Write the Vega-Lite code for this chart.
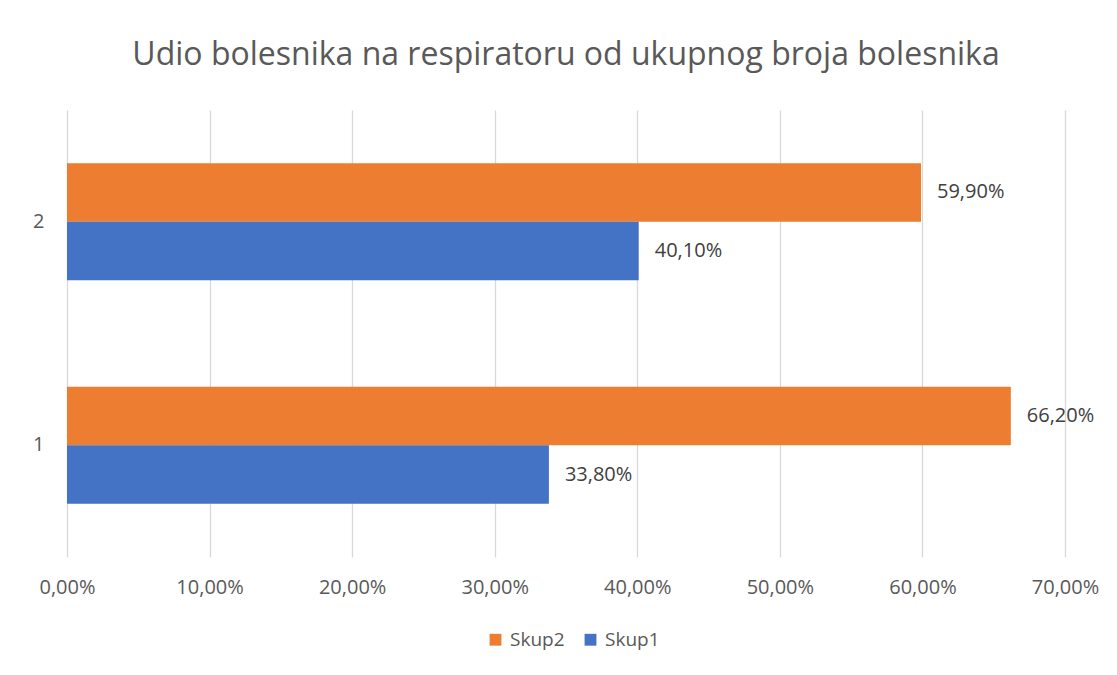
{
  "$schema": "https://vega.github.io/schema/vega-lite/v6.json",
  "width": 998,
  "height": 447,
  "autosize": "none",
  "padding": {"left": 67, "top": 110, "right": 52, "bottom": 118},
  "background": "#ffffff",
  "title": {
    "text": "Udio bolesnika na respiratoru od ukupnog broja bolesnika",
    "font": "Open Sans",
    "fontSize": 32,
    "fontWeight": "normal",
    "color": "#595959",
    "anchor": "middle",
    "frame": "group",
    "offset": 38
  },
  "data": {
    "values": [
      {"kategorija": "2", "serija": "Skup2", "udio": 0.599},
      {"kategorija": "2", "serija": "Skup1", "udio": 0.401},
      {"kategorija": "1", "serija": "Skup2", "udio": 0.662},
      {"kategorija": "1", "serija": "Skup1", "udio": 0.338}
    ]
  },
  "encoding": {
    "y": {
      "field": "kategorija",
      "type": "nominal",
      "scale": {"domain": ["2", "1"], "paddingInner": 0.476, "paddingOuter": 0.238},
      "axis": {
        "title": null,
        "domain": false,
        "ticks": false,
        "labelPadding": 23,
        "labelFont": "Open Sans",
        "labelFontSize": 20,
        "labelColor": "#595959"
      }
    },
    "yOffset": {
      "field": "serija",
      "type": "nominal",
      "scale": {"domain": ["Skup2", "Skup1"], "paddingInner": 0, "paddingOuter": 0}
    },
    "x": {
      "field": "udio",
      "type": "quantitative",
      "scale": {"domain": [0, 0.7], "nice": false},
      "axis": {
        "title": null,
        "format": ".2%",
        "values": [0, 0.1, 0.2, 0.3, 0.4, 0.5, 0.6, 0.7],
        "domain": false,
        "ticks": false,
        "grid": true,
        "gridColor": "#d9d9d9",
        "gridWidth": 1.3,
        "labelFlush": false,
        "labelOverlap": false,
        "labelPadding": 20,
        "labelFont": "Open Sans",
        "labelFontSize": 20,
        "labelColor": "#595959"
      }
    }
  },
  "layer": [
    {
      "mark": {"type": "bar", "cornerRadius": 0},
      "encoding": {
        "color": {
          "field": "serija",
          "type": "nominal",
          "scale": {"domain": ["Skup2", "Skup1"], "range": ["#ED7D31", "#4472C4"]},
          "legend": {
            "title": null,
            "orient": "none",
            "direction": "horizontal",
            "legendX": 419,
            "legendY": 520,
            "symbolType": "square",
            "symbolSize": 140,
            "symbolStrokeWidth": 0,
            "symbolOpacity": 1,
            "labelFont": "Open Sans",
            "labelFontSize": 19,
            "labelColor": "#595959",
            "labelOffset": 5,
            "columnPadding": 16
          }
        }
      }
    },
    {
      "mark": {
        "type": "text",
        "align": "left",
        "baseline": "middle",
        "dx": 16,
        "font": "Open Sans",
        "fontSize": 20,
        "color": "#404040"
      },
      "encoding": {
        "text": {"field": "udio", "type": "quantitative", "format": ".2%"}
      }
    }
  ],
  "config": {
    "view": {"stroke": null},
    "locale": {
      "number": {
        "decimal": ",",
        "thousands": ".",
        "grouping": [3],
        "currency": ["", " €"]
      }
    }
  }
}
